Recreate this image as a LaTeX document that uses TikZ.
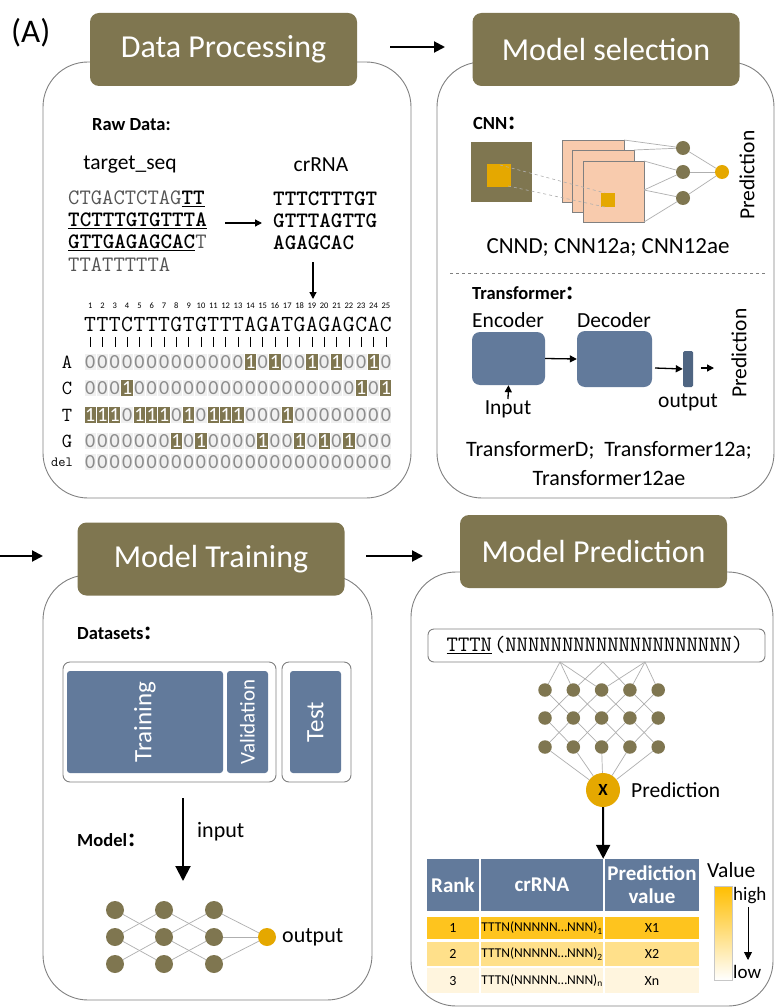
\documentclass[tikz,border=0pt]{standalone}
\usepackage{fontspec}
\setmainfont{Carlito}
\newfontfamily\cjk{Noto Sans CJK SC}
\usetikzlibrary{arrows.meta,calc}
\definecolor{olive}{RGB}{127,118,80}
\definecolor{gold}{RGB}{229,168,0}
\definecolor{bgray}{RGB}{98,122,155}
\definecolor{dbar}{RGB}{79,101,130}
\definecolor{peach}{RGB}{248,203,173}
\definecolor{cellg}{RGB}{240,240,240}
\definecolor{border}{RGB}{128,128,128}
\definecolor{edgeg}{RGB}{175,175,175}
\definecolor{rowA}{RGB}{254,196,30}
\definecolor{rowB}{RGB}{255,224,138}
\definecolor{rowC}{RGB}{255,245,222}
\definecolor{digit}{RGB}{140,140,140}
\definecolor{seqgray}{RGB}{85,85,85}
\definecolor{hot}{RGB}{255,190,0}
\newcommand\fsz[2]{\fontsize{#1}{#2}\selectfont}
\newcommand\fwcolon{{\cjk ：}}
\begin{document}
\begin{tikzpicture}[x=1pt,y=-1pt,
  panel/.style={draw=border, line width=0.9pt, fill=white, rounded corners=45pt},
  ttl/.style={fill=olive, rounded corners=9pt, text=white, font=\fsz{32}{36}, minimum width=267pt, minimum height=73pt, inner sep=0},
  flowarrow/.style={line width=2pt, -{Triangle[length=11pt,width=11pt]}},
  thinarrow/.style={line width=1.3pt, -{Triangle[length=7pt,width=7pt]}},
  lbl/.style={inner sep=0, font=\fsz{21.5}{25}},
  bhdr/.style={inner sep=0, font=\bfseries\fsz{18.5}{21}, anchor=west},
  mono/.style={inner sep=0, font=\ttfamily\fsz{22}{26}, anchor=west},
  numlab/.style={inner sep=0, font=\fsz{8.5}{9}},
  seqhead/.style={inner sep=0, font=\ttfamily\fsz{23}{26}},
  cellzero/.style={fill=cellg, minimum width=11.3pt, minimum height=16.5pt, inner sep=0, text=digit, font=\fsz{20}{20}},
  cellone/.style={fill=olive, minimum width=11.3pt, minimum height=16.5pt, inner sep=0, text=white, font=\fsz{20}{20}},
  onode/.style={circle, fill=olive, inner sep=0},
  gnode/.style={circle, fill=gold, inner sep=0},
  edge/.style={draw=edgeg, line width=0.7pt},
  bluebox/.style={fill=bgray, rounded corners=3pt, inner sep=0},
  grpbox/.style={draw=border, line width=0.9pt, rounded corners=7pt, fill=white},
  tcell/.style={inner sep=0, minimum height=24pt},
]
\useasboundingbox (0,0) rectangle (775,1008);

% ---------- panels ----------
\draw[panel] (43,62) rectangle (411,498);
\draw[panel] (437,62) rectangle (774,498);
\draw[panel] (43,575) rectangle (372,1000);
\draw[panel] (411,572) rectangle (773,1006);

\node[inner sep=0, anchor=west, font=\fsz{33}{36}] (lblA) at (11,33) {(A)};

\node[ttl] (t1) at (223.5,49.5) {Data Processing};
\node[ttl] (t2) at (606,49.5) {Model selection};
\node[ttl] (t3) at (211,559) {Model Training};
\node[ttl] (t4) at (593.5,551.5) {Model Prediction};

\coordinate (a1s) at (390,47); \coordinate (a1e) at (445,47);
\draw[flowarrow] (a1s) -- (a1e);
\coordinate (a2s) at (0,556); \coordinate (a2e) at (43,556);
\draw[flowarrow] (a2s) -- (a2e);
\coordinate (a3s) at (366,556); \coordinate (a3e) at (423,556);
\draw[flowarrow] (a3s) -- (a3e);

% ---------- Data processing ----------
\node[bhdr] (raw) at (92,125) {Raw Data:};
\node[lbl] (tseq) at (130,165) {target\_seq};
\node[lbl] (crl) at (321,165) {crRNA};
\node[mono] (s1) at (68,199) {{\color{seqgray}CTGACTCTAG}\underline{\textbf{TT}}};
\node[mono] (s2) at (68,221) {\underline{\textbf{TCTTTGTGTTTA}}};
\node[mono] (s3) at (68,243) {\underline{\textbf{GTTGAGAGCAC}}{\color{seqgray}T}};
\node[mono] (s4) at (68,265) {\color{seqgray}TTATTTTTA};
\node[mono] (r1) at (273,199) {\textbf{TTTCTTTGT}};
\node[mono] (r2) at (273,221) {\textbf{GTTTAGTTG}};
\node[mono] (r3) at (273,243) {\textbf{AGAGCAC}};
\coordinate (ha) at (225,223); \coordinate (hb) at (262,223);
\draw[thinarrow] (ha) -- (hb);
\coordinate (va) at (313,262); \coordinate (vb) at (313,299);
\draw[thinarrow] (va) -- (vb);

\foreach \r/\ry in {A/362,C/388,T/415,G/441}
  \node[inner sep=0, font=\ttfamily\fsz{20}{22}] (rl\r) at (67,\ry) {\r};
\node[inner sep=0, font=\ttfamily\fsz{14}{16}] (rldel) at (62,462) {del};

\foreach \ch [count=\i] in {T,T,T,C,T,T,T,G,T,G,T,T,T,A,G,A,T,G,A,G,A,G,C,A,C} {
  \pgfmathsetmacro\cx{84+12.32*\i-6.16}
  \node[numlab] (nl\i) at (\cx,306) {\i};
  \node[seqhead] (sh\i) at (\cx,324) {\ch};
  \draw[line width=0.6pt] (\cx,337) -- (\cx,347);
  \foreach \r/\ry in {A/362,C/388,T/415,G/441,del/462} {
    \edef\aa{\ch}\edef\bb{\r}
    \ifx\aa\bb
      \node[cellone] (c\i\r) at (\cx,\ry) {1};
    \else
      \node[cellzero] (c\i\r) at (\cx,\ry) {0};
    \fi
  }
}

% ---------- Model selection: CNN ----------
\node[bhdr] (cnnh) at (473,123) {CNN\fwcolon};
\fill[olive] (471,142) rectangle (532,202);
\fill[gold] (487,164) rectangle (511,187);
\draw[draw=border, fill=peach, line width=0.6pt] (562,140) rectangle (624,202);
\draw[draw=border, fill=peach, line width=0.6pt] (572,150) rectangle (634,212);
\draw[draw=border, fill=peach, line width=0.6pt] (583,161) rectangle (644,222);
\fill[gold] (601,193) rectangle (615,207);
\draw[edgeg, dashed, line width=0.6pt] (500,165) -- (605,193);
\draw[edgeg, dashed, line width=0.6pt] (508,186) -- (605,207);
\node[onode, minimum size=14pt] (k1) at (683,148) {};
\node[onode, minimum size=14pt] (k2) at (683,172) {};
\node[onode, minimum size=14pt] (k3) at (683,198) {};
\node[gnode, minimum size=14pt] (kp) at (722,172) {};
\coordinate (q1) at (624,140); \coordinate (q2) at (634,150);
\coordinate (q3) at (644,161); \coordinate (q4) at (644,190); \coordinate (q5) at (644,222);
\draw[edge] (q1) -- (k1); \draw[edge] (q2) -- (k1);
\draw[edge] (q3) -- (k2); \draw[edge] (q4) -- (k2);
\draw[edge] (q4) -- (k3); \draw[edge] (q5) -- (k3);
\foreach \k in {k1,k2,k3} \draw[edge] (\k) -- (kp);
\node[lbl, rotate=90] (cnnpred) at (747,175) {Prediction};
\node[inner sep=0, font=\fsz{23}{27}] (cnnm) at (608,248) {CNND; CNN12a; CNN12ae};
\coordinate (dl1) at (450,273); \coordinate (dl2) at (766,273);
\draw[border, dashed, line width=0.6pt] (dl1) -- (dl2);

% ---------- Model selection: Transformer ----------
\node[bhdr] (trh) at (472,293) {Transformer\fwcolon};
\node[lbl] (encl) at (508,320) {Encoder};
\node[lbl] (decl) at (614,320) {Decoder};
\node[bluebox, rounded corners=8pt, minimum width=73pt, minimum height=53pt] (enc) at (508.5,358.5) {};
\node[bluebox, rounded corners=8pt, minimum width=75pt, minimum height=56pt] (dec) at (614.5,359) {};
\draw[thinarrow] (enc.east) -- (dec.west);
\node[lbl] (inpl) at (508,409) {Input};
\coordinate (inpt) at (508,399);
\draw[thinarrow] (inpt) -- (enc.south);
\node[fill=dbar, rounded corners=1.5pt, minimum width=10pt, minimum height=36pt, inner sep=0] (obar) at (688,369) {};
\coordinate (oa) at (655,368);
\draw[thinarrow] (oa) -- (obar.west);
\coordinate (ob) at (701,368); \coordinate (oc) at (714,368);
\draw[thinarrow] (ob) -- (oc);
\node[lbl] (outl) at (688,402) {output};
\node[lbl, rotate=90] (trpred) at (739,353) {Prediction};
\node[inner sep=0, font=\fsz{22}{26}] (trm1) at (609,450) {TransformerD; \ Transformer12a;};
\node[inner sep=0, font=\fsz{22}{26}] (trm2) at (609,478) {Transformer12ae};

% ---------- Model training ----------
\node[bhdr] (dsh) at (77,633) {Datasets\fwcolon};
\draw[grpbox] (63,662) rectangle (276,782);
\draw[grpbox] (282,662) rectangle (351,782);
\node[bluebox, minimum width=156pt, minimum height=102pt] (trn) at (145,722) {};
\node[inner sep=0, rotate=90, text=white, font=\fsz{25}{28}] (trnl) at (trn) {Training};
\node[bluebox, minimum width=41pt, minimum height=102pt] (val) at (247.5,722) {};
\node[inner sep=0, rotate=90, text=white, font=\fsz{21}{24}] (vall) at (val) {Validation};
\node[bluebox, minimum width=51pt, minimum height=102pt] (tst) at (315.5,722) {};
\node[inner sep=0, rotate=90, text=white, font=\fsz{25}{28}] (tstl) at (tst) {Test};
\coordinate (ia) at (183,798); \coordinate (ib) at (183,881);
\draw[line width=2pt, -{Triangle[length=15pt,width=15pt]}] (ia) -- (ib);
\node[lbl, anchor=west, font=\fsz{22}{26}] (inputl) at (197,832) {input};
\node[bhdr] (mdh) at (77,840) {Model\fwcolon};
\foreach \c/\x in {1/115,2/164,3/214}
  \foreach \r/\y in {1/910,2/937,3/964}
    \node[onode, minimum size=18pt] (m\c\r) at (\x,\y) {};
\node[gnode, minimum size=18pt] (mout) at (267,937) {};
\foreach \c/\d in {1/2,2/3} {
  \draw[edge] (m\c1) -- (m\d2); \draw[edge] (m\c2) -- (m\d1);
  \draw[edge] (m\c2) -- (m\d3); \draw[edge] (m\c3) -- (m\d2);
}
\foreach \r in {1,2,3} \draw[edge] (m3\r) -- (mout);
\node[lbl, anchor=west, font=\fsz{22}{26}] (outl2) at (282,937) {output};

% ---------- Model prediction ----------
\node[draw=border, line width=0.9pt, rounded corners=6pt, minimum width=337pt, minimum height=33pt, inner sep=0] (sbox) at (596.5,645.5) {};
\node[inner sep=0, font=\ttfamily\fsz{22}{26}] (stext) at (595,645) {\underline{TTTN}\kern2pt(NNNNNNNNNNNNNNNNNNNN)};
\foreach \c in {1,...,5}
  \foreach \r/\y in {1/690,2/718,3/747}
    \node[onode, minimum size=13.5pt] (n\c\r) at ({545+28.3*(\c-1)},\y) {};
\coordinate (p1) at (560,662); \coordinate (p2) at (603,662); \coordinate (p3) at (645,662);
\draw[edge] (p1) -- (n11); \draw[edge] (p1) -- (n21); \draw[edge] (p1) -- (n31);
\draw[edge] (p2) -- (n21); \draw[edge] (p2) -- (n41);
\draw[edge] (p3) -- (n31); \draw[edge] (p3) -- (n41); \draw[edge] (p3) -- (n51);
\foreach \r/\s in {1/2,2/3} {
  \draw[edge] (n1\r) -- (n2\s);
  \draw[edge] (n2\r) -- (n1\s); \draw[edge] (n2\r) -- (n3\s);
  \draw[edge] (n3\r) -- (n2\s); \draw[edge] (n3\r) -- (n4\s);
  \draw[edge] (n4\r) -- (n3\s); \draw[edge] (n4\r) -- (n5\s);
  \draw[edge] (n5\r) -- (n4\s);
}
\node[gnode, minimum size=34pt, font=\bfseries\fsz{17}{20}] (xn) at (603,790) {X};
\foreach \c in {1,...,5} \draw[edge] (n\c3) -- (xn);
\node[lbl, anchor=west] (xpred) at (631,790) {Prediction};

\node[tcell, fill=bgray, minimum width=52pt, minimum height=52pt, text=white, font=\bfseries\fsz{21}{24}] (h1) at (453,885) {Rank};
\node[tcell, fill=bgray, minimum width=122pt, minimum height=52pt, text=white, font=\bfseries\fsz{21}{24}] (h2) at (542,885) {crRNA};
\node[tcell, fill=bgray, minimum width=94pt, minimum height=52pt, text=white, font=\bfseries\fsz{21}{23}, align=center] (h3) at (652,885) {Prediction\\value};
\draw[line width=2pt, -{Triangle[length=14pt,width=14pt]}] (xn.south) -- (h2.north east);

\foreach \row/\y/\h/\col/\rk/\sub/\xv in {1/928/22/rowA/1/1/X1, 2/954/24/rowB/2/2/X2, 3/980.5/25/rowC/3/n/Xn} {
  \node[tcell, fill=\col, minimum width=52pt, minimum height=\h pt, font=\fsz{14}{16}] (rk\row) at (453,\y) {\rk};
  \node[tcell, fill=\col, minimum width=122pt, minimum height=\h pt, font=\fsz{13.5}{16}] (cr\row) at (542,\y) {TTTN(NNNNN…NNN)\textsubscript{\sub}};
  \node[tcell, fill=\col, minimum width=94pt, minimum height=\h pt, font=\fsz{14}{16}] (pv\row) at (652,\y) {\xv};
}

\node[lbl, anchor=west] (vall2) at (707,870) {Value};
\shade[top color=hot, bottom color=white] (714,886) rectangle (732,980);
\draw[draw=edgeg!70, line width=0.8pt] (714,886) rectangle (732,980);
\node[inner sep=0, anchor=west, font=\fsz{19}{22}] (hi) at (733,896) {high};
\node[inner sep=0, anchor=west, font=\fsz{19}{22}] (lo) at (733,972) {low};
\coordinate (ga) at (748,907); \coordinate (gb) at (748,960);
\draw[line width=0.8pt, -{Triangle[length=8pt,width=8pt]}] (ga) -- (gb);
\end{tikzpicture}
\end{document}
